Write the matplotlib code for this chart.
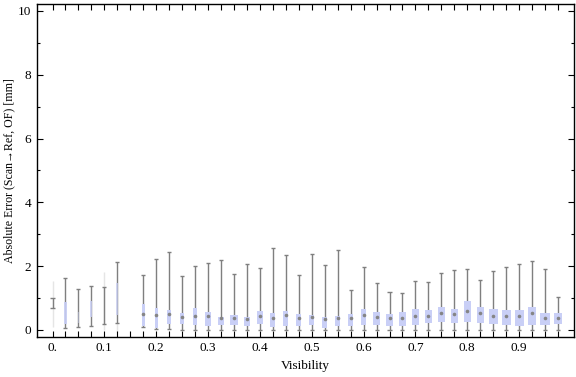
import numpy as np
import matplotlib
matplotlib.use("Agg")
import matplotlib.pyplot as plt
from matplotlib.ticker import FixedLocator, MultipleLocator

nan = np.nan

# Visibility bins (0.15 bin is empty)
visibility = [round(0.025 * i, 3) for i in range(40)]

whisker_lo = [0.68, 0.05, 0.10, 0.14, 0.18, 0.21, nan, 0.08, 0.04, 0.03,
              0.0, 0.0, 0.0, 0.0, 0.0, 0.0, 0.0, 0.0, 0.0, 0.0,
              0.0, 0.0, 0.0, 0.0, 0.0, 0.0, 0.0, 0.0, 0.0, 0.0,
              0.0, 0.0, 0.0, 0.0, 0.0, 0.0, 0.0, 0.0, 0.0, 0.0]
q1 = [nan, 0.20, 0.23, 0.42, nan, 0.47, nan, 0.13, 0.07, 0.20,
      0.20, 0.17, 0.14, 0.17, 0.17, 0.14, 0.20, 0.10, 0.14, 0.14,
      0.17, 0.07, 0.14, 0.14, 0.17, 0.17, 0.14, 0.14, 0.17, 0.23,
      0.26, 0.23, 0.24, 0.23, 0.20, 0.17, 0.14, 0.17, 0.17, 0.20]
median = [nan, nan, nan, nan, nan, nan, nan, 0.49, 0.47, 0.50,
          0.42, 0.45, 0.45, 0.38, 0.39, 0.34, 0.45, 0.38, 0.48, 0.36,
          0.41, 0.33, 0.39, 0.36, 0.46, 0.40, 0.37, 0.39, 0.43, 0.45,
          0.52, 0.49, 0.61, 0.52, 0.43, 0.43, 0.43, 0.53, 0.39, 0.37]
q3 = [nan, 0.87, 0.56, 0.91, nan, 1.46, nan, 0.82, 0.68, 0.63,
      0.53, 0.69, 0.56, 0.41, 0.47, 0.41, 0.60, 0.53, 0.60, 0.50,
      0.47, 0.41, 0.44, 0.50, 0.66, 0.56, 0.50, 0.56, 0.66, 0.63,
      0.72, 0.66, 0.91, 0.72, 0.66, 0.63, 0.63, 0.72, 0.53, 0.53]
whisker_hi = [0.99, 1.63, 1.29, 1.39, 1.34, 2.13, nan, 1.72, 2.22, 2.43,
              1.69, 2.01, 2.09, 2.18, 1.75, 2.06, 1.94, 2.56, 2.34, 1.71,
              2.38, 2.03, 2.50, 1.24, 1.96, 1.46, 1.18, 1.15, 1.53, 1.49,
              1.78, 1.87, 1.90, 1.56, 1.84, 1.97, 2.06, 2.15, 1.90, 1.02]
# faint extended range for the sparsest bins
faint_lo = [0.10, nan, nan, nan, 0.0, -0.05, nan, nan, nan, nan] + [nan] * 30
faint_hi = [1.54, nan, nan, nan, 1.83, 0.21, nan, nan, nan, nan] + [nan] * 30
# relative weight of each bin (drives box width / opacity)
weight = [0.10, 0.22, 0.17, 0.22, 0.10, 0.17, 0.0, 0.33, 0.33, 0.39,
          0.44, 0.44, 0.55, 0.65, 0.75, 0.65, 0.65, 0.55, 0.55, 0.55,
          0.55, 0.58, 0.55, 0.52, 0.58, 0.65, 0.65, 0.65, 0.70, 0.70,
          0.77, 0.77, 0.77, 0.77, 0.92, 0.92, 0.92, 0.85, 1.00, 0.88]
box_alpha = [0.0, 0.9, 0.45, 0.8, 0.0, 0.7, 0.0] + [1.0] * 33

xtick_labels = ["0.", "0.1", "0.2", "0.3", "0.4", "0.5", "0.6", "0.7", "0.8", "0.9"]
xtick_values = [0.0, 0.1, 0.2, 0.3, 0.4, 0.5, 0.6, 0.7, 0.8, 0.9]

plt.rcParams['font.family'] = ['Liberation Serif', 'DejaVu Serif']

fig = plt.figure(figsize=(5.76, 3.77), dpi=100)
ax = fig.add_axes([0.0637, 0.1053, 0.9320, 0.8833])

box_color = "#c9cff6"
wh_color = "#7f7f7f"
max_w = 0.0185
cap_w = 0.0078

for i, x in enumerate(visibility):
    # faint extent
    if not np.isnan(faint_lo[i]):
        ax.plot([x, x], [faint_lo[i], faint_hi[i]], color=wh_color, lw=1.0,
                alpha=0.2, solid_capstyle='butt', zorder=1)
    if np.isnan(whisker_lo[i]):
        continue
    ax.plot([x, x], [whisker_lo[i], whisker_hi[i]], color=wh_color, lw=1.0,
            solid_capstyle='butt', zorder=2)
    for yv in (whisker_lo[i], whisker_hi[i]):
        ax.plot([x - cap_w / 2, x + cap_w / 2], [yv, yv], color=wh_color,
                lw=1.0, solid_capstyle='butt', zorder=2)
    if not np.isnan(q1[i]) and box_alpha[i] > 0:
        w = max_w * weight[i]
        ax.add_patch(plt.Rectangle((x - w / 2, q1[i]), w, q3[i] - q1[i],
                                   facecolor=box_color, edgecolor='none',
                                   alpha=box_alpha[i], zorder=3))
    if not np.isnan(median[i]):
        ax.plot([x], [median[i]], marker='o', ms=2.6, color="#858585",
                mec='none', zorder=4)

ax.set_xlim(-0.0305, 1.0049)
ax.set_ylim(-0.23, 10.21)

ax.xaxis.set_major_locator(FixedLocator(xtick_values))
ax.set_xticklabels(xtick_labels)
ax.xaxis.set_minor_locator(FixedLocator(visibility))
ax.yaxis.set_major_locator(MultipleLocator(2))
ax.yaxis.set_minor_locator(MultipleLocator(1))

ax.tick_params(axis='x', which='both', direction='in', top=True, bottom=True,
               length=4.5, width=0.8, labelsize=9.5, pad=3.5, colors='black')
ax.tick_params(axis='y', which='major', direction='in', left=True, right=True,
               length=4.5, width=0.8, labelsize=9.5, pad=4, colors='black')
ax.tick_params(axis='y', which='minor', direction='in', left=True, right=True,
               length=2.5, width=0.8)
for sp in ax.spines.values():
    sp.set_linewidth(1.0)

ax.set_xlabel("Visibility", fontsize=9.5, labelpad=4)
ax.set_ylabel("Absolute Error (Scan\u2192Ref, OF) [mm]", fontsize=8.6)
ax.yaxis.set_label_coords(-0.040, 0.5)

fig.savefig("out.png", dpi=100)
